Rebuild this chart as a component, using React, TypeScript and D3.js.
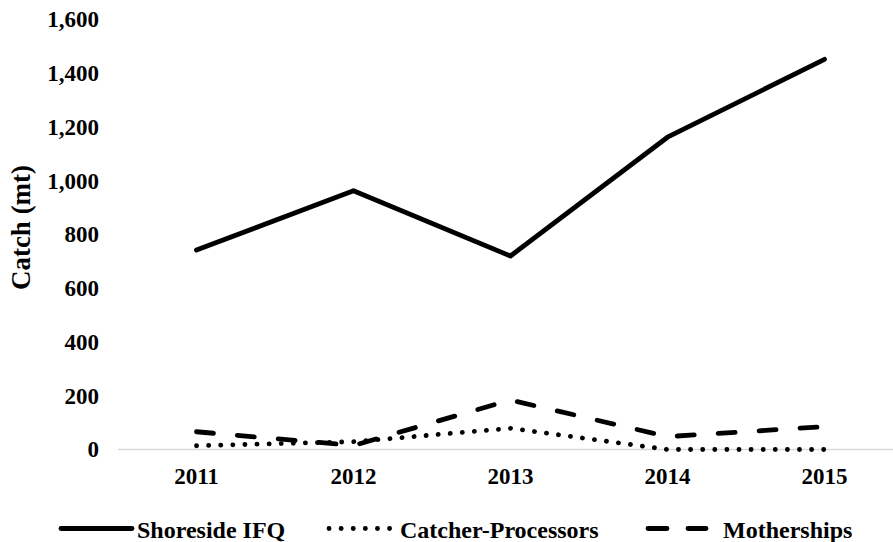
import React from "react";
import * as d3 from "d3";

const years = ["2011", "2012", "2013", "2014", "2015"];
const shoreside = [742, 963, 720, 1162, 1452];
const catcherProcessors = [14, 29, 79, 0, 0];
const motherships = [66, 15, 184, 48, 85];
const yTicks = [0, 200, 400, 600, 800, 1000, 1200, 1400, 1600];

const W = 893;
const H = 542;
const plotLeft = 118;
const plotRight = 903;
const yZero = 449.5;
const yTop = 19.5;
const FONT = "'Liberation Serif', 'Times New Roman', serif";

export default function App() {
  const x = d3
    .scaleBand<string>()
    .domain(years)
    .range([plotLeft, plotRight])
    .padding(0);
  const y = d3.scaleLinear().domain([0, 1600]).range([yZero, yTop]);
  const cx = (d: string) => (x(d) as number) + x.bandwidth() / 2;
  const line = d3
    .line<number>()
    .x((_, i) => cx(years[i]))
    .y((v) => y(v));

  const series = [
    { name: "Shoreside IFQ", data: shoreside, dash: "none" },
    { name: "Catcher-Processors", data: catcherProcessors, dash: "0.1 12" },
    { name: "Motherships", data: motherships, dash: "17 24" },
  ];

  const legendY = 528.5;
  const legend = [
    { x1: 61, x2: 132, tx: 137, dash: "none" },
    { x1: 329, x2: 390, tx: 400, dash: "0.1 12" },
    { x1: 648, x2: 706, tx: 723, dash: "19 21" },
  ];

  return (
    <svg
      width={W}
      height={H}
      style={{ position: "absolute", left: 0, top: 0, background: "#fff" }}
      fontFamily={FONT}
      fontWeight="bold"
    >
      <rect width={W} height={H} fill="#fff" />
      {yTicks.map((t) => (
        <text
          key={t}
          x={99}
          y={y(t) + 7.8}
          textAnchor="end"
          fontSize={23}
          fill="#000"
        >
          {d3.format(",")(t)}
        </text>
      ))}
      <line
        x1={plotLeft}
        x2={W}
        y1={y(0)}
        y2={y(0)}
        stroke="#d9d9d9"
        strokeWidth={1.5}
      />
      {years.map((yr) => (
        <text
          key={yr}
          x={cx(yr)}
          y={484}
          textAnchor="middle"
          fontSize={23}
          fill="#000"
        >
          {yr}
        </text>
      ))}
      <text
        transform={`translate(30,227.5) rotate(-90)`}
        textAnchor="middle"
        fontSize={27}
        fill="#000"
      >
        Catch (mt)
      </text>
      {series.map((s) => (
        <path
          key={s.name}
          d={line(s.data) as string}
          fill="none"
          stroke="#000"
          strokeWidth={4.8}
          strokeDasharray={s.dash}
          strokeLinecap="round"
          strokeLinejoin="round"
        />
      ))}
      {series.map((s, i) => (
        <g key={s.name}>
          <line
            x1={legend[i].x1}
            x2={legend[i].x2}
            y1={legendY}
            y2={legendY}
            stroke="#000"
            strokeWidth={4.8}
            strokeDasharray={legend[i].dash}
            strokeLinecap="round"
          />
          <text x={legend[i].tx} y={537.5} fontSize={24} fill="#000">
            {s.name}
          </text>
        </g>
      ))}
    </svg>
  );
}
